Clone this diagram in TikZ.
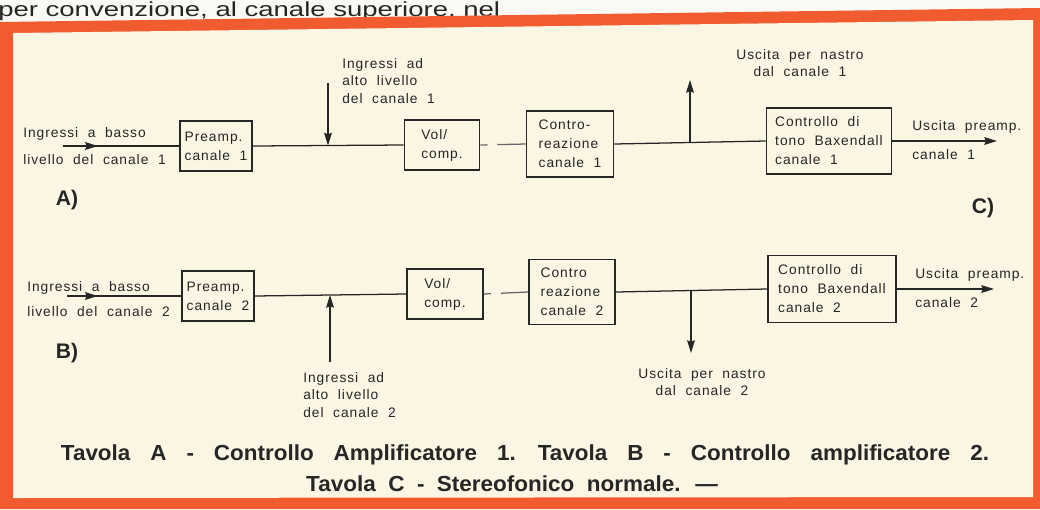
\documentclass[tikz,border=0pt]{standalone}
\usepackage{fontspec}
\setmainfont{Liberation Sans}
\newfontfamily\lblfont[LetterSpace=7,WordSpace=2]{Liberation Sans}
\newfontfamily\capfont[FakeStretch=1.03,WordSpace=3.2]{Liberation Sans}
\newfontfamily\capfontb[FakeStretch=1.032,WordSpace=2]{Liberation Sans}
\newfontfamily\topfont[FakeStretch=1.35]{Liberation Sans}
\usetikzlibrary{arrows.meta,decorations.markings}

\definecolor{framered}{rgb}{0.94,0.36,0.19}
\definecolor{paperwhite}{rgb}{0.985,0.962,0.89}
\definecolor{pagetop}{rgb}{0.98,0.975,0.955}
\definecolor{inkgray}{rgb}{0.15,0.15,0.15}

\tikzset{
  blk/.style={draw=inkgray,line width=1.3pt,fill=paperwhite,align=left,inner sep=0pt,
    font=\lblfont\fontsize{9.8}{13.5}\selectfont,text=inkgray},
  wire/.style={draw=inkgray,line width=0.9pt},
  gapwire/.style={draw=inkgray!70,dash pattern=on 5pt off 7pt on 30pt},
  lbl/.style={font=\lblfont\fontsize{9.8}{12}\selectfont,text=inkgray,inner sep=0pt},
  tip/.style={-{Stealth[length=9pt,width=5.5pt,inset=1pt]}},
  midtip/.style={postaction={decorate},decoration={markings,
    mark=at position #1 with {\arrow{Stealth[length=9pt,width=5.5pt,inset=1pt]}}}},
  tag/.style={font=\bfseries\fontsize{15}{15}\selectfont,text=inkgray,inner sep=0pt},
  captxt/.style={font=\capfont\bfseries\fontsize{15.5}{15.5}\selectfont,text=inkgray,inner sep=0pt}
}

\begin{document}
\begin{tikzpicture}[x=0.025cm,y=-0.025cm]
\useasboundingbox (0,0) rectangle (1040,509);
\fill[pagetop] (0,0) rectangle (1040,509);
\node[anchor=base west,font=\topfont\fontsize{14.5}{14.5}\selectfont,text=inkgray,inner sep=0pt] (toptxt) at (-2,16) {per convenzione, al canale superiore, nel};
\fill[framered] (0,22) -- (1040,8) -- (1040,509) -- (0,509) -- cycle;
\fill[paperwhite] (13,33) -- (1033,20) -- (1033,497) -- (13,498) -- cycle;

\node[blk,minimum width=1.8cm,minimum height=1.25cm] (pre1) at (216,146) {Preamp.\\canale 1};
\node[blk,minimum width=1.875cm,minimum height=1.25cm] (vol1) at (442,145) {Vol/\\comp.};
\node[blk,minimum width=2.175cm,minimum height=1.65cm] (con1) at (570,144) {Contro-\\reazione\\canale 1};
\node[blk,minimum width=3.125cm,minimum height=1.65cm] (ton1) at (829,141) {Controllo di\\tono Baxendall\\canale 1};

\node[blk,minimum width=1.8cm,minimum height=1.25cm] (pre2) at (218,296) {Preamp.\\canale 2};
\node[blk,minimum width=1.9cm,minimum height=1.25cm] (vol2) at (445,294) {Vol/\\comp.};
\node[blk,minimum width=2.15cm,minimum height=1.625cm] (con2) at (572,292) {Contro\\reazione\\canale 2};
\node[blk,minimum width=3.2cm,minimum height=1.675cm] (ton2) at (832,289) {Controllo di\\tono Baxendall\\canale 2};

\coordinate (in1) at (63,146);
\coordinate (hi1) at (328,83);
\coordinate (j1) at (328,145.5);
\coordinate (t1) at (690,142.5);
\coordinate (tape1) at (690,80);
\coordinate (out1) at (997,141);

\coordinate (in2) at (67,296);
\coordinate (hi2) at (330,362);
\coordinate (j2) at (330,295);
\coordinate (t2) at (691,290.5);
\coordinate (tape2) at (691,353);
\coordinate (out2) at (994,289);

\draw[wire,midtip=0.3] (in1) -- (pre1.west);
\draw[wire] (pre1.east) -- (vol1.west);
\draw[wire,tip] (hi1) -- (j1);
\draw[wire,gapwire] (vol1.east) -- (con1.west);
\draw[wire] (con1.east) -- (ton1.west);
\draw[wire,tip] (t1) -- (tape1);
\draw[wire,tip] (ton1.east) -- (out1);

\draw[wire,midtip=0.27] (in2) -- (pre2.west);
\draw[wire] (pre2.east) -- (vol2.west);
\draw[wire,tip] (hi2) -- (j2);
\draw[wire,gapwire] (vol2.east) -- (con2.west);
\draw[wire] (con2.east) -- (ton2.west);
\draw[wire,tip] (t2) -- (tape2);
\draw[wire,tip] (ton2.east) -- (out2);

\node[lbl,anchor=west] (lo1a) at (23,134) {Ingressi a basso};
\node[lbl,anchor=west] (lo1b) at (23,160) {livello del canale 1};
\node[lbl,anchor=west,align=left,font=\lblfont\fontsize{9.8}{12.2}\selectfont] (hi1txt) at (342,81) {Ingressi ad\\alto livello\\del canale 1};
\node[lbl,align=center] (tape1txt) at (800,63) {Uscita per nastro\\dal canale 1};
\node[lbl,anchor=west] (out1a) at (912,127) {Uscita preamp.};
\node[lbl,anchor=west] (out1b) at (912,155) {canale 1};
\node[tag] (tagA) at (67,200) {A)};
\node[tag] (tagC) at (983,208) {C)};

\node[lbl,anchor=west] (lo2a) at (27,288) {Ingressi a basso};
\node[lbl,anchor=west] (lo2b) at (27,312) {livello del canale 2};
\node[lbl,anchor=west,align=left,font=\lblfont\fontsize{9.8}{12.2}\selectfont] (hi2txt) at (303,395) {Ingressi ad\\alto livello\\del canale 2};
\node[lbl,align=center] (tape2txt) at (702,382) {Uscita per nastro\\dal canale 2};
\node[lbl,anchor=west] (out2a) at (915,275) {Uscita preamp.};
\node[lbl,anchor=west] (out2b) at (915,303) {canale 2};
\node[tag] (tagB) at (67,353) {B)};

\node[captxt] (cap1) at (525,455) {Tavola A - Controllo Amplificatore 1. Tavola B - Controllo amplificatore 2.};
\node[captxt,font=\capfontb\bfseries\fontsize{15.5}{15.5}\selectfont] (cap2) at (512,484) {Tavola C - Stereofonico normale. —};
\end{tikzpicture}
\end{document}
